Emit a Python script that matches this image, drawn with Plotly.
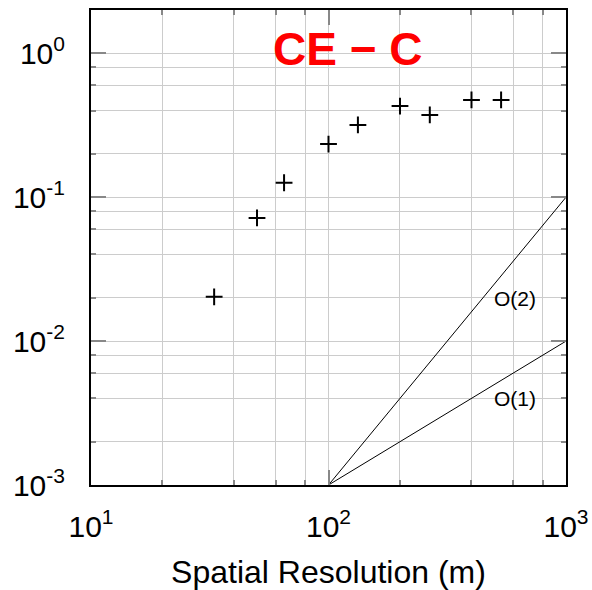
import math
import plotly.graph_objects as go

# Data
resolution_m = [33, 50, 65, 100, 133, 200, 267, 400, 533]
error_ce_c = [0.0203, 0.0718, 0.126, 0.234, 0.318, 0.43, 0.373, 0.474, 0.474]

order1_x = [100, 1000]
order1_y = [1e-3, 1e-2]
order2_x = [100, 1000]
order2_y = [1e-3, 1e-1]

x_major = [10, 100, 1000]
x_major_text = ["10<sup>1</sup>", "10<sup>2</sup>", "10<sup>3</sup>"]
x_minor = [20, 40, 60, 80, 200, 400, 600, 800]
y_major = [1e-3, 1e-2, 1e-1, 1e0]
y_major_text = ["10<sup>-3</sup>", "10<sup>-2</sup>", "10<sup>-1</sup>", "10<sup>0</sup>"]
y_minor = [0.002, 0.004, 0.006, 0.008, 0.02, 0.04, 0.06, 0.08,
           0.2, 0.4, 0.6, 0.8, 2]

FONT = "Liberation Sans, Arial, Helvetica, sans-serif"

fig = go.Figure()
fig.add_trace(go.Scatter(x=order2_x, y=order2_y, mode="lines",
                         line=dict(color="black", width=1), showlegend=False))
fig.add_trace(go.Scatter(x=order1_x, y=order1_y, mode="lines",
                         line=dict(color="black", width=1), showlegend=False))
fig.add_trace(go.Scatter(x=resolution_m, y=error_ce_c, mode="markers",
                         marker=dict(symbol="cross-thin", size=12,
                                     line=dict(color="black", width=2)),
                         showlegend=False))

fig.add_annotation(x=math.log10(610), y=math.log10(0.0197), xref="x", yref="y",
                   xanchor="center", yanchor="middle",
                   text="O(2)", showarrow=False,
                   font=dict(family=FONT, size=21, color="black"))
fig.add_annotation(x=math.log10(610), y=math.log10(0.004), xref="x", yref="y",
                   xanchor="center", yanchor="middle",
                   text="O(1)", showarrow=False,
                   font=dict(family=FONT, size=21, color="black"))
fig.add_annotation(x=0.541, y=0.918, xref="paper", yref="paper",
                   xanchor="center", yanchor="middle",
                   text="<b>CE \u2212 C</b>", showarrow=False,
                   font=dict(family=FONT, size=46, color="#ff0000"))

axis_common = dict(
    type="log",
    showline=True, linecolor="black", linewidth=2, mirror="allticks",
    ticks="inside", ticklen=15, tickwidth=2, tickcolor="#888888",
    showgrid=True, gridcolor="#cccccc", gridwidth=1,
    zeroline=False, automargin=False,
    tickfont=dict(family=FONT, size=30, color="black"),
)

fig.update_xaxes(
    **axis_common,
    range=[1, 3],
    tickmode="array", tickvals=x_major, ticktext=x_major_text,
    ticklabelstandoff=14,
    minor=dict(tickmode="array", tickvals=x_minor, ticks="inside", ticklen=5,
               tickwidth=1.5, tickcolor="#888888", showgrid=True,
               gridcolor="#cccccc", gridwidth=1),
    title=dict(text="Spatial Resolution (m)", standoff=19,
               font=dict(family=FONT, size=32, color="black")),
)
fig.update_yaxes(
    **axis_common,
    range=[-3, math.log10(2)],
    tickmode="array", tickvals=y_major, ticktext=y_major_text,
    ticklabelstandoff=18,
    minor=dict(tickmode="array", tickvals=y_minor, ticks="inside", ticklen=5,
               tickwidth=1.5, tickcolor="#888888", showgrid=True,
               gridcolor="#cccccc", gridwidth=1),
)

fig.update_layout(
    width=592, height=590,
    margin=dict(l=91, r=26, t=10, b=105, autoexpand=False),
    paper_bgcolor="white", plot_bgcolor="white",
    font=dict(family=FONT),
)

fig.write_html("out.html")
